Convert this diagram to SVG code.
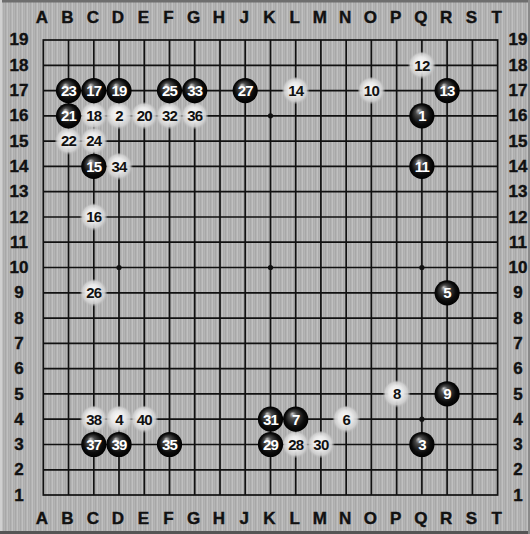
<svg xmlns="http://www.w3.org/2000/svg" xmlns:xlink="http://www.w3.org/1999/xlink" width="530" height="534" viewBox="0 0 530 534">
<defs>
<pattern id="stripes" width="5" height="534" patternUnits="userSpaceOnUse">
<rect width="5" height="534" fill="#b4b4b4"/>
<rect x="0" width="1" height="534" fill="#a8a8a8"/>
<rect x="2" width="1" height="534" fill="#c0c0c0"/>
<rect x="3" width="1" height="534" fill="#adadad"/>
</pattern>
<radialGradient id="gb" cx="0.5" cy="0.5" r="0.5" fx="0.36" fy="0.28">
<stop offset="0" stop-color="#c8c8c8"/>
<stop offset="0.3" stop-color="#4a4a4a"/>
<stop offset="0.75" stop-color="#0c0c0c"/>
<stop offset="1" stop-color="#000"/>
</radialGradient>
<radialGradient id="gw" cx="0.5" cy="0.5" r="0.5" fx="0.45" fy="0.4">
<stop offset="0" stop-color="#fafafa"/>
<stop offset="0.5" stop-color="#e8e8e8"/>
<stop offset="0.8" stop-color="#d0d0d0" stop-opacity="0.9"/>
<stop offset="1" stop-color="#b8b8b8" stop-opacity="0"/>
</radialGradient>
<circle id="bs" r="12.6" fill="url(#gb)"/>
<circle id="ws" r="14" fill="url(#gw)"/>
</defs>
<style>
.lab{font-family:"Liberation Sans",Arial,sans-serif;font-weight:bold;font-size:17px;fill:#111;text-anchor:middle;stroke:#111;stroke-width:0.4}
.bn{font-family:"Liberation Sans",Arial,sans-serif;font-weight:bold;font-size:15px;fill:#fff;text-anchor:middle;letter-spacing:-0.8px}
.wn{font-family:"Liberation Sans",Arial,sans-serif;font-weight:bold;font-size:15px;fill:#111;text-anchor:middle;letter-spacing:-0.8px}
.gl{stroke:#111;stroke-width:1.7;fill:none}
</style>
<rect width="530" height="534" fill="url(#stripes)"/>
<rect x="0" y="0" width="530" height="2.5" fill="#6e6e6e"/>
<rect x="0" y="0" width="2" height="534" fill="#d0d0d0"/>
<rect x="0" y="531" width="530" height="3" fill="#555"/>
<rect x="528" y="0" width="2" height="534" fill="#8a8a8a"/>

<g id="grid" class="gl">
<rect x="43.3" y="40" width="454.3" height="455"/>
<path d="M68.5 40V495M93.8 40V495M119 40V495M144.3 40V495M169.5 40V495M194.7 40V495M220 40V495M245.2 40V495M270.5 40V495M295.7 40V495M320.9 40V495M346.2 40V495M371.4 40V495M396.7 40V495M421.9 40V495M447.1 40V495M472.4 40V495"/>
<path d="M43.3 65.3H497.6M43.3 90.6H497.6M43.3 115.8H497.6M43.3 141.1H497.6M43.3 166.4H497.6M43.3 191.7H497.6M43.3 217H497.6M43.3 242.2H497.6M43.3 267.5H497.6M43.3 292.8H497.6M43.3 318.1H497.6M43.3 343.4H497.6M43.3 368.6H497.6M43.3 393.9H497.6M43.3 419.2H497.6M43.3 444.5H497.6M43.3 469.8H497.6"/>
</g>
<g id="hoshi" fill="#111">
<circle cx="119" cy="115.8" r="2.6"/><circle cx="270.5" cy="115.8" r="2.6"/><circle cx="421.9" cy="115.8" r="2.6"/>
<circle cx="119" cy="267.5" r="2.6"/><circle cx="270.5" cy="267.5" r="2.6"/><circle cx="421.9" cy="267.5" r="2.6"/>
<circle cx="119" cy="419.2" r="2.6"/><circle cx="270.5" cy="419.2" r="2.6"/><circle cx="421.9" cy="419.2" r="2.6"/>
</g>

<g id="coords" class="lab">
<text x="42" y="23">A</text><text x="67.5" y="23">B</text><text x="92.8" y="23">C</text><text x="118" y="23">D</text><text x="143.3" y="23">E</text><text x="168.5" y="23">F</text><text x="193.7" y="23">G</text><text x="219" y="23">H</text><text x="244.2" y="23">J</text><text x="269.5" y="23">K</text><text x="294.7" y="23">L</text><text x="319.9" y="23">M</text><text x="345.2" y="23">N</text><text x="370.4" y="23">O</text><text x="395.7" y="23">P</text><text x="420.9" y="23">Q</text><text x="446.1" y="23">R</text><text x="471.4" y="23">S</text><text x="496.6" y="23">T</text>
<text x="42" y="524">A</text><text x="67.5" y="524">B</text><text x="92.8" y="524">C</text><text x="118" y="524">D</text><text x="143.3" y="524">E</text><text x="168.5" y="524">F</text><text x="193.7" y="524">G</text><text x="219" y="524">H</text><text x="244.2" y="524">J</text><text x="269.5" y="524">K</text><text x="294.7" y="524">L</text><text x="319.9" y="524">M</text><text x="345.2" y="524">N</text><text x="370.4" y="524">O</text><text x="395.7" y="524">P</text><text x="420.9" y="524">Q</text><text x="446.1" y="524">R</text><text x="471.4" y="524">S</text><text x="496.6" y="524">T</text>
<text x="19" y="45">19</text><text x="19" y="70.9">18</text><text x="19" y="96.2">17</text><text x="19" y="121.4">16</text><text x="19" y="146.7">15</text><text x="19" y="172">14</text><text x="19" y="197.3">13</text><text x="19" y="222.6">12</text><text x="19" y="247.8">11</text><text x="19" y="273.1">10</text><text x="19" y="298.4">9</text><text x="19" y="323.7">8</text><text x="19" y="349">7</text><text x="19" y="374.2">6</text><text x="19" y="399.5">5</text><text x="19" y="424.8">4</text><text x="19" y="450.1">3</text><text x="19" y="475.4">2</text><text x="19" y="500.6">1</text>
<text x="518" y="45">19</text><text x="518" y="70.9">18</text><text x="518" y="96.2">17</text><text x="518" y="121.4">16</text><text x="518" y="146.7">15</text><text x="518" y="172">14</text><text x="518" y="197.3">13</text><text x="518" y="222.6">12</text><text x="518" y="247.8">11</text><text x="518" y="273.1">10</text><text x="518" y="298.4">9</text><text x="518" y="323.7">8</text><text x="518" y="349">7</text><text x="518" y="374.2">6</text><text x="518" y="399.5">5</text><text x="518" y="424.8">4</text><text x="518" y="450.1">3</text><text x="518" y="475.4">2</text><text x="518" y="500.6">1</text>
</g>

<g id="white-stones">
<g id="w2" transform="translate(119,115.8)"><use href="#ws"/><text class="wn" y="5.3">2</text></g>
<g id="w4" transform="translate(119,419.2)"><use href="#ws"/><text class="wn" y="5.3">4</text></g>
<g id="w6" transform="translate(346.2,419.2)"><use href="#ws"/><text class="wn" y="5.3">6</text></g>
<g id="w8" transform="translate(396.7,393.9)"><use href="#ws"/><text class="wn" y="5.3">8</text></g>
<g id="w10" transform="translate(371.4,90.6)"><use href="#ws"/><text class="wn" y="5.3">10</text></g>
<g id="w12" transform="translate(421.9,65.3)"><use href="#ws"/><text class="wn" y="5.3">12</text></g>
<g id="w14" transform="translate(295.7,90.6)"><use href="#ws"/><text class="wn" y="5.3">14</text></g>
<g id="w16" transform="translate(93.8,217)"><use href="#ws"/><text class="wn" y="5.3">16</text></g>
<g id="w18" transform="translate(93.8,115.8)"><use href="#ws"/><text class="wn" y="5.3">18</text></g>
<g id="w20" transform="translate(144.3,115.8)"><use href="#ws"/><text class="wn" y="5.3">20</text></g>
<g id="w22" transform="translate(68.5,141.1)"><use href="#ws"/><text class="wn" y="5.3">22</text></g>
<g id="w24" transform="translate(93.8,141.1)"><use href="#ws"/><text class="wn" y="5.3">24</text></g>
<g id="w26" transform="translate(93.8,292.8)"><use href="#ws"/><text class="wn" y="5.3">26</text></g>
<g id="w28" transform="translate(295.7,444.5)"><use href="#ws"/><text class="wn" y="5.3">28</text></g>
<g id="w30" transform="translate(320.9,444.5)"><use href="#ws"/><text class="wn" y="5.3">30</text></g>
<g id="w32" transform="translate(169.5,115.8)"><use href="#ws"/><text class="wn" y="5.3">32</text></g>
<g id="w34" transform="translate(119,166.4)"><use href="#ws"/><text class="wn" y="5.3">34</text></g>
<g id="w36" transform="translate(194.7,115.8)"><use href="#ws"/><text class="wn" y="5.3">36</text></g>
<g id="w38" transform="translate(93.8,419.2)"><use href="#ws"/><text class="wn" y="5.3">38</text></g>
<g id="w40" transform="translate(144.3,419.2)"><use href="#ws"/><text class="wn" y="5.3">40</text></g>
</g>

<g id="black-stones">
<g id="b1" transform="translate(421.9,115.8)"><use href="#bs"/><text class="bn" y="5.3">1</text></g>
<g id="b3" transform="translate(421.9,444.5)"><use href="#bs"/><text class="bn" y="5.3">3</text></g>
<g id="b5" transform="translate(447.1,292.8)"><use href="#bs"/><text class="bn" y="5.3">5</text></g>
<g id="b7" transform="translate(295.7,419.2)"><use href="#bs"/><text class="bn" y="5.3">7</text></g>
<g id="b9" transform="translate(447.1,393.9)"><use href="#bs"/><text class="bn" y="5.3">9</text></g>
<g id="b11" transform="translate(421.9,166.4)"><use href="#bs"/><text class="bn" y="5.3">11</text></g>
<g id="b13" transform="translate(447.1,90.6)"><use href="#bs"/><text class="bn" y="5.3">13</text></g>
<g id="b15" transform="translate(93.8,166.4)"><use href="#bs"/><text class="bn" y="5.3">15</text></g>
<g id="b17" transform="translate(93.8,90.6)"><use href="#bs"/><text class="bn" y="5.3">17</text></g>
<g id="b19" transform="translate(119,90.6)"><use href="#bs"/><text class="bn" y="5.3">19</text></g>
<g id="b21" transform="translate(68.5,115.8)"><use href="#bs"/><text class="bn" y="5.3">21</text></g>
<g id="b23" transform="translate(68.5,90.6)"><use href="#bs"/><text class="bn" y="5.3">23</text></g>
<g id="b25" transform="translate(169.5,90.6)"><use href="#bs"/><text class="bn" y="5.3">25</text></g>
<g id="b27" transform="translate(245.2,90.6)"><use href="#bs"/><text class="bn" y="5.3">27</text></g>
<g id="b29" transform="translate(270.5,444.5)"><use href="#bs"/><text class="bn" y="5.3">29</text></g>
<g id="b31" transform="translate(270.5,419.2)"><use href="#bs"/><text class="bn" y="5.3">31</text></g>
<g id="b33" transform="translate(194.7,90.6)"><use href="#bs"/><text class="bn" y="5.3">33</text></g>
<g id="b35" transform="translate(169.5,444.5)"><use href="#bs"/><text class="bn" y="5.3">35</text></g>
<g id="b37" transform="translate(93.8,444.5)"><use href="#bs"/><text class="bn" y="5.3">37</text></g>
<g id="b39" transform="translate(119,444.5)"><use href="#bs"/><text class="bn" y="5.3">39</text></g>
</g>
</svg>
